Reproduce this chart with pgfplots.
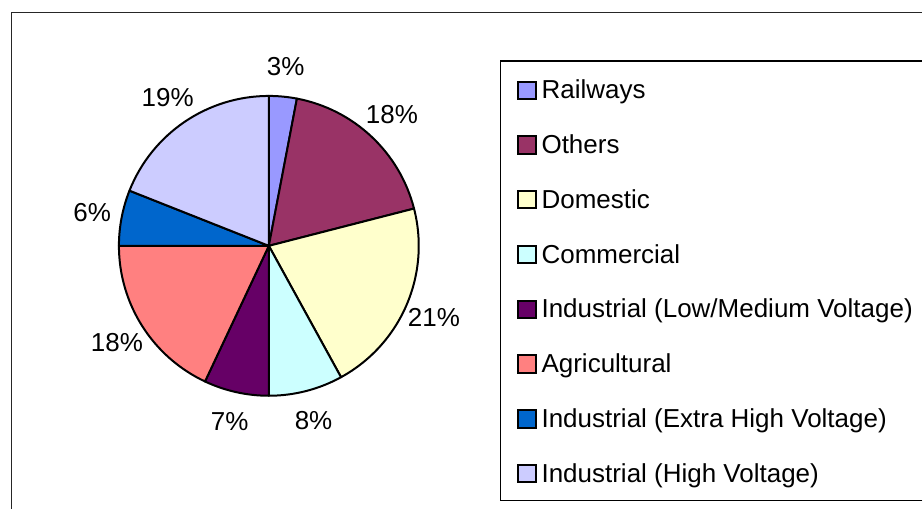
\documentclass[border=0pt]{standalone}
\usepackage{fontspec}
\setmainfont{Liberation Sans}
\usepackage{pgfplots}
\pgfplotsset{compat=1.18}

\definecolor{cRail}{HTML}{9999FF}
\definecolor{cOth}{HTML}{993366}
\definecolor{cDom}{HTML}{FFFFCC}
\definecolor{cCom}{HTML}{CCFFFF}
\definecolor{cLMV}{HTML}{660066}
\definecolor{cAgr}{HTML}{FF8080}
\definecolor{cEHV}{HTML}{0066CC}
\definecolor{cHV}{HTML}{CCCCFF}

\newcommand\lblfont{\fontsize{13}{15}\selectfont}

\begin{document}
\begin{tikzpicture}
\gdef\cum{0}
\begin{axis}[
    hide axis,
    scale only axis,
    width=461.5pt, height=254.5pt,
    xmin=0, xmax=923, ymin=0, ymax=509,
    clip=false,
    legend image code/.code={\draw[#1] (0pt,0pt) rectangle (8.7pt,8.7pt);},
    legend cell align=left,
    legend style={at={(axis cs:517.5,430)}, anchor=north west,
        draw=none, fill=none, inner sep=0pt, outer sep=0pt,
        row sep=14.9pt, font=\lblfont,
        nodes={inner sep=0pt, text height=10pt, text depth=2.5pt, anchor=base west},
        /tikz/every odd column/.append style={column sep=2.5pt}},
]
% page area and frames (pixel coordinates, y upwards)
\path (axis cs:0,0) rectangle (axis cs:923,509);
\draw[black!85, line width=0.6pt] (axis cs:11.5,0) -- (axis cs:11.5,496.5) -- (axis cs:923,496.5);
\draw[black, line width=0.6pt] (axis cs:923,8) -- (axis cs:500.5,8) -- (axis cs:500.5,448) -- (axis cs:923,448);

% pie: value / colour, clockwise from 12 o'clock
\foreach \val/\col in {3/cRail,18/cOth,21/cDom,8/cCom,7/cLMV,18/cAgr,6/cEHV,19/cHV}{
  \pgfmathsetmacro\sa{90-3.6*\cum}
  \pgfmathsetmacro\sb{90-3.6*(\cum+\val)}
  \pgfmathsetmacro\sm{(\sa+\sb)/2}
  \edef\slice{\noexpand\filldraw[fill=\col, draw=black, line width=1pt, line join=round]
    (axis cs:269,263) -- ++(\sa:75pt) arc[start angle=\sa, end angle=\sb, radius=75pt] -- cycle;
    \noexpand\path (axis cs:269,263) ++(\sm:90pt) node[anchor=center, inner sep=0pt, font=\noexpand\lblfont] {\val\noexpand\%};}
  \slice
  \pgfmathsetmacro\nc{\cum+\val}\xdef\cum{\nc}
}

\addlegendimage{fill=cRail, draw=black, line width=1pt}
\addlegendentry{Railways}
\addlegendimage{fill=cOth, draw=black, line width=1pt}
\addlegendentry{Others}
\addlegendimage{fill=cDom, draw=black, line width=1pt}
\addlegendentry{Domestic}
\addlegendimage{fill=cCom, draw=black, line width=1pt}
\addlegendentry{Commercial}
\addlegendimage{fill=cLMV, draw=black, line width=1pt}
\addlegendentry{Industrial (Low/Medium Voltage)}
\addlegendimage{fill=cAgr, draw=black, line width=1pt}
\addlegendentry{Agricultural}
\addlegendimage{fill=cEHV, draw=black, line width=1pt}
\addlegendentry{Industrial (Extra High Voltage)}
\addlegendimage{fill=cHV, draw=black, line width=1pt}
\addlegendentry{Industrial (High Voltage)}
\end{axis}
\end{tikzpicture}
\end{document}
